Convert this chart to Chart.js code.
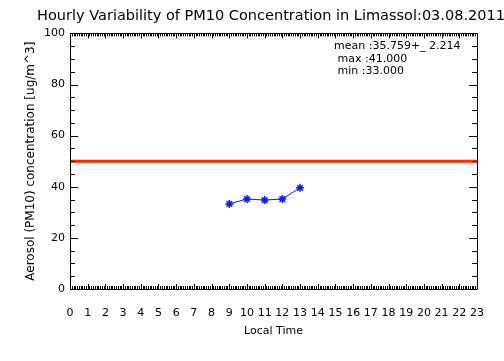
<!DOCTYPE html>
<html>
<head>
<meta charset="utf-8">
<script src="https://cdn.jsdelivr.net/npm/chart.js@4"></script>
<style>
  html, body { margin: 0; padding: 0; background: #fff; overflow: hidden; }
  #wrap { width: 504px; height: 361px; overflow: hidden; }
</style>
</head>
<body>
<div id="wrap"><canvas id="chart" width="542" height="361"></canvas></div>
<script>
// hours of the day (local time) and hourly PM10 means
const hours = [9, 10, 11, 12, 13];
const pm10 = [33.3, 35.2, 34.8, 35.2, 39.6];
const limitValue = 50;
const xRange = [0, 23];
const yRange = [0, 100];
const statsLines = ['mean :35.759+_ 2.214', ' max :41.000', ' min :33.000'];

const FONT = 'DejaVu Sans';

// IDL style frame with inward ticks on all four sides
const frameTicks = {
  id: 'frameTicks',
  afterDraw(chart) {
    const { ctx, chartArea: a, scales } = chart;
    const x = scales.x, y = scales.y;
    ctx.save();
    ctx.strokeStyle = '#000';
    ctx.lineWidth = 1;
    ctx.beginPath();
    ctx.rect(Math.round(a.left) + 0.5, Math.round(a.top) + 0.5,
      Math.round(a.right - a.left), Math.round(a.bottom - a.top));
    // x ticks, 10 per hour
    for (let i = xRange[0] * 10; i <= xRange[1] * 10; i++) {
      const px = Math.round(x.getPixelForValue(i / 10)) + 0.5;
      const len = i % 10 === 0 ? 5 : 3;
      ctx.moveTo(px, a.bottom); ctx.lineTo(px, a.bottom - len);
      ctx.moveTo(px, a.top); ctx.lineTo(px, a.top + len);
    }
    // y ticks every 5, major every 20
    for (let v = yRange[0]; v <= yRange[1]; v += 5) {
      const py = Math.round(y.getPixelForValue(v)) + 0.5;
      const len = v % 20 === 0 ? 8 : 5;
      ctx.moveTo(a.left, py); ctx.lineTo(a.left + len, py);
      ctx.moveTo(a.right, py); ctx.lineTo(a.right - len, py);
    }
    ctx.stroke();

    // statistics box text
    ctx.fillStyle = '#000';
    ctx.font = '11px "' + FONT + '"';
    ctx.textBaseline = 'middle';
    ctx.textAlign = 'left';
    statsLines.forEach((line, i) => {
      ctx.fillText(line, a.left + 264, a.top + 13 + i * 12.5);
    });
    ctx.restore();
  }
};

const ctx = document.getElementById('chart').getContext('2d');
new Chart(ctx, {
  type: 'line',
  data: {
    datasets: [
      {
        label: 'limit',
        data: [{ x: xRange[0], y: limitValue }, { x: xRange[1], y: limitValue }],
        borderColor: 'rgb(255, 40, 0)',
        borderWidth: 3,
        pointRadius: 0,
        order: 2
      },
      {
        label: 'PM10',
        data: hours.map((h, i) => ({ x: h, y: pm10[i] })),
        borderColor: 'rgb(20, 20, 255)',
        backgroundColor: 'rgb(20, 20, 255)',
        borderWidth: 1,
        pointStyle: 'star',
        pointRadius: 4,
        pointBorderWidth: 1.5,
        order: 1
      }
    ]
  },
  options: {
    responsive: false,
    animation: false,
    devicePixelRatio: 1,
    layout: { padding: 0 },
    plugins: {
      legend: { display: false },
      tooltip: { enabled: false },
      title: {
        display: true,
        text: 'Hourly Variability of PM10 Concentration in Limassol:03.08.2011',
        color: '#000',
        font: { family: FONT, size: 14.5, weight: 'normal' },
        padding: { top: 8, bottom: 8 }
      }
    },
    scales: {
      x: {
        type: 'linear',
        min: xRange[0],
        max: xRange[1],
        grid: { display: false, drawTicks: false },
        border: { display: false },
        afterFit: s => { s.height = 72; },
        ticks: {
          stepSize: 1,
          autoSkip: false,
          maxRotation: 0,
          minRotation: 0,
          padding: 18,
          color: '#000',
          font: { family: FONT, size: 11 }
        },
        title: {
          display: true,
          text: 'Local Time',
          color: '#000',
          font: { family: FONT, size: 11 },
          padding: { top: 4, bottom: 23 }
        }
      },
      y: {
        min: yRange[0],
        max: yRange[1],
        grid: { display: false, drawTicks: false },
        border: { display: false },
        afterFit: s => { s.width = 70; },
        ticks: {
          stepSize: 20,
          padding: 5,
          color: '#000',
          font: { family: FONT, size: 11 }
        },
        title: {
          display: true,
          text: 'Aerosol (PM10) concentration [ug/m^3]',
          color: '#000',
          font: { family: FONT, size: 12 },
          padding: { top: 24, bottom: 0 }
        }
      },
      // empty right-hand axis that reserves the space right of the plot
      yRight: {
        position: 'right',
        min: yRange[0],
        max: yRange[1],
        grid: { display: false, drawTicks: false },
        border: { display: false },
        ticks: { display: false },
        afterFit: s => { s.width = 65; }
      }
    }
  },
  plugins: [frameTicks]
});
</script>
</body>
</html>
